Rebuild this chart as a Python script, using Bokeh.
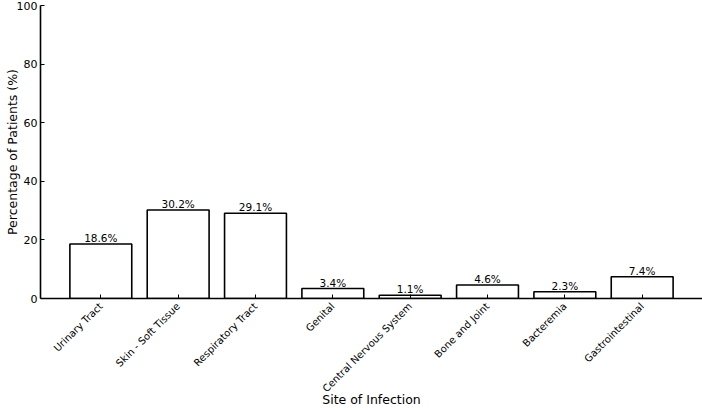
from math import pi
from bokeh.plotting import figure
from bokeh.models import ColumnDataSource, FactorRange, Range1d
from bokeh.embed import file_html
from bokeh.resources import INLINE

categories = ["Urinary Tract", "Skin - Soft Tissue", "Respiratory Tract", "Genital",
              "Central Nervous System", "Bone and Joint", "Bacteremia", "Gastrointestinal"]
values = [18.6, 30.2, 29.1, 3.4, 1.1, 4.6, 2.3, 7.4]
labels = [f"{v:.1f}%" for v in values]
y_ticks = [0, 20, 40, 60, 80, 100]
x_title = "Site of Infection"
y_title = "Percentage of Patients (%)"

src = ColumnDataSource(dict(cat=categories, val=values, lab=labels))

p = figure(width=702, height=410, output_backend="svg", toolbar_location=None,
           x_range=FactorRange(factors=categories, range_padding=0.07),
           y_range=Range1d(0, 100),
           min_border_left=40, min_border_top=5, min_border_right=0, min_border_bottom=112)
p.vbar(x="cat", top="val", width=0.8, source=src, fill_color="white",
       line_color="black", line_width=1.6)
p.text(x="cat", y="val", text="lab", source=src, text_align="center",
       text_baseline="bottom", y_offset=0, text_font_size="10.5px",
       text_font={"value": "DejaVu Sans"}, text_color="black")

p.outline_line_color = None
p.xgrid.visible = False
p.ygrid.visible = False
p.background_fill_color = "white"

for ax in (p.xaxis[0], p.yaxis[0]):
    ax.major_tick_in = 4
    ax.major_tick_out = 0
    ax.minor_tick_in = 0
    ax.minor_tick_out = 0
    ax.axis_line_width = 1.6
    ax.major_tick_line_width = 1
    ax.major_label_text_font = "DejaVu Sans"
    ax.major_label_text_font_size = "10px"
    ax.major_label_text_color = "black"
    ax.axis_label_text_font = "DejaVu Sans"
    ax.axis_label_text_font_size = "12.5px"
    ax.axis_label_text_font_style = "normal"
    ax.axis_label_text_color = "black"

p.yaxis.ticker = y_ticks
p.yaxis.axis_label = y_title
p.yaxis.major_label_standoff = 3
p.yaxis.axis_label_standoff = -6
p.yaxis.major_label_text_font_size = "11px"
p.xaxis.axis_label = x_title
p.xaxis.major_label_orientation = pi / 4
p.xaxis.major_label_standoff = 6
p.xaxis.axis_label_standoff = -9

open("out.html", "w").write(file_html(p, INLINE))
